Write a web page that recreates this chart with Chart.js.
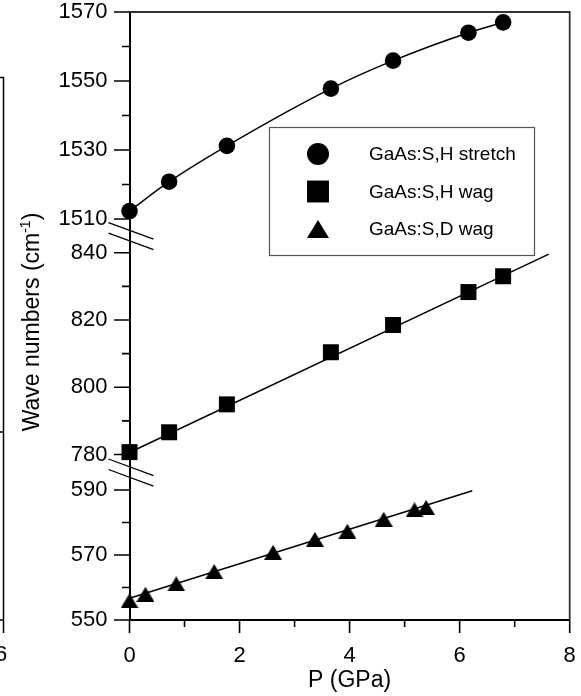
<!DOCTYPE html>
<html>
<head>
<meta charset="utf-8">
<script src="https://cdn.jsdelivr.net/npm/chart.js@4.4.1/dist/chart.umd.min.js"></script>
<style>
  html, body { margin: 0; padding: 0; background: #fff; }
  #wrap { width: 581px; height: 696px; }
</style>
</head>
<body>
<div id="wrap"><canvas id="chart" width="581" height="696"></canvas></div>
<script>
(function() {
  'use strict';

  // --- Data ---
  const pressureH = [0, 0.72, 1.77, 3.66, 4.79, 6.16, 6.79];
  const stretchH  = [1512.3, 1520.8, 1531.2, 1547.8, 1555.9, 1564.0, 1567.0];
  const wagH      = [780.7, 786.6, 794.9, 810.4, 818.5, 828.3, 833.0];
  const pressureD = [0, 0.29, 0.85, 1.54, 2.61, 3.37, 3.96, 4.62, 5.18, 5.39];
  const wagD      = [555.9, 557.9, 561.1, 564.9, 570.8, 574.8, 577.3, 581.0, 583.9, 584.6];

  // straight fit lines, end points as drawn
  const fitWagHP = [0, 7.62];
  const fitWagH  = [780.6, 839.6];
  const fitWagDP = [0, 6.23];
  const fitWagD  = [556.7, 589.8];

  const seriesNames = ['GaAs:S,H stretch', 'GaAs:S,H wag', 'GaAs:S,D wag'];

  // --- Tick labels ---
  const xTickLabels   = [0, 2, 4, 6, 8];
  const topTickLabels = [1510, 1530, 1550, 1570];
  const midTickLabels = [780, 800, 820, 840];
  const lowTickLabels = [550, 570, 590];

  const FONT = "'Liberation Sans', Arial, Helvetica, sans-serif";
  const AXIS_LEFT = 129.5;

  function pts(xs, ys) { return xs.map((x, i) => ({x: x, y: ys[i]})); }

  // labelled ticks plus the unlabelled minor tick halfway between
  function withMinors(labels) {
    const out = [];
    labels.forEach((v, i) => {
      out.push(v);
      if (i < labels.length - 1) out.push((v + labels[i + 1]) / 2);
    });
    return out;
  }

  // Origin-style triangle, centred on its bounding box
  function triangleSprite(w, h) {
    const c = document.createElement('canvas');
    c.width = w; c.height = h;
    const g = c.getContext('2d');
    g.fillStyle = '#000';
    g.beginPath();
    g.moveTo(w / 2, 0);
    g.lineTo(w, h);
    g.lineTo(0, h);
    g.closePath();
    g.fill();
    return c;
  }
  const triSmall = triangleSprite(18, 15);
  const triBig   = triangleSprite(22, 18);

  function yAxis(min, max, labels, stackWeight, order) {
    return {
      type: 'linear',
      position: 'left',
      stack: 'wn',
      stackWeight: stackWeight,
      weight: order,
      min: min,
      max: max,
      grid: { display: false, drawTicks: false },
      border: { color: '#000', width: 2 },
      ticks: {
        color: '#000',
        font: { family: FONT, size: 22 },
        padding: 22,
        autoSkip: false,
        callback: v => labels.includes(v) ? String(v) : ''
      },
      afterBuildTicks: s => { s.ticks = withMinors(labels).map(v => ({value: v})); },
      afterFit: s => { s.width = AXIS_LEFT; s.paddingTop = 0; s.paddingBottom = 0; }
    };
  }

  // --- Decorations: frame, tick marks, breaks, y title, legend ---
  const decor = {
    id: 'decor',
    afterDraw(chart) {
      const ctx = chart.ctx;
      const a = chart.chartArea;
      const sc = chart.scales;
      ctx.save();

      // top and right frame
      ctx.strokeStyle = '#333';
      ctx.lineWidth = 1.8;
      ctx.beginPath();
      ctx.moveTo(a.left, a.top);
      ctx.lineTo(a.right, a.top);
      ctx.lineTo(a.right, a.bottom);
      ctx.stroke();

      // tick marks
      ctx.strokeStyle = '#000';
      ctx.lineWidth = 1.6;
      ctx.beginPath();
      [['yTop', topTickLabels], ['yMid', midTickLabels], ['yLow', lowTickLabels]].forEach(([id, labels]) => {
        const s = sc[id];
        s.ticks.forEach(t => {
          const y = s.getPixelForValue(t.value);
          const len = labels.includes(t.value) ? 15.5 : 7.5;
          ctx.moveTo(a.left - len, y);
          ctx.lineTo(a.left, y);
        });
      });
      sc.x.ticks.forEach(t => {
        const x = sc.x.getPixelForValue(t.value);
        const len = xTickLabels.includes(t.value) ? 13 : 7;
        ctx.moveTo(x, a.bottom);
        ctx.lineTo(x, a.bottom + len);
      });
      ctx.stroke();

      // axis break marks
      ctx.lineWidth = 1.3;
      ctx.beginPath();
      [sc.yTop.bottom, sc.yMid.bottom].forEach(yb => {
        [-5, 5.5].forEach(off => {
          ctx.moveTo(a.left - 21, yb + off - 8.3);
          ctx.lineTo(a.left + 24, yb + off + 8.3);
        });
      });
      ctx.stroke();

      // y title with superscript
      ctx.fillStyle = '#000';
      ctx.translate(39, 322);
      ctx.rotate(-Math.PI / 2);
      ctx.textBaseline = 'alphabetic';
      ctx.textAlign = 'left';
      const main = 'Wave numbers (cm', sup = '-1', close = ')';
      ctx.font = '23px ' + FONT;
      const w1 = ctx.measureText(main).width;
      const w3 = ctx.measureText(close).width;
      ctx.font = '14px ' + FONT;
      const w2 = ctx.measureText(sup).width;
      let x0 = -(w1 + w2 + w3) / 2;
      ctx.font = '23px ' + FONT;
      ctx.fillText(main, x0, 0);
      ctx.font = '14px ' + FONT;
      ctx.fillText(sup, x0 + w1, -9);
      ctx.font = '23px ' + FONT;
      ctx.fillText(close, x0 + w1 + w2, 0);
      ctx.setTransform(1, 0, 0, 1, 0, 0);

      // legend
      ctx.fillStyle = '#fff';
      ctx.fillRect(269.5, 127.5, 265, 128);
      ctx.strokeStyle = '#555';
      ctx.lineWidth = 1.2;
      ctx.strokeRect(269.5, 127.5, 265, 128);
      const marks = [
        {pointStyle: 'circle', radius: 11, rotation: 0},
        {pointStyle: 'rect', radius: 15.5, rotation: 0},
        {pointStyle: triBig, radius: 11, rotation: 0}
      ];
      const rows = [154, 191.5, 229];
      ctx.font = '19px ' + FONT;
      ctx.textBaseline = 'middle';
      seriesNames.forEach((name, i) => {
        ctx.fillStyle = '#000';
        ctx.beginPath();
        Chart.helpers.drawPoint(ctx, marks[i], 318, rows[i]);
        ctx.fillStyle = '#000';
        ctx.fillText(name, 369, rows[i] + 1);
      });

      // edge of the neighbouring panel, cut off at the left
      ctx.strokeStyle = '#000';
      ctx.lineWidth = 1.5;
      ctx.beginPath();
      ctx.moveTo(0, 77.5);
      ctx.lineTo(3.5, 77.5);
      ctx.lineTo(3.5, 633);
      ctx.moveTo(0, 620);
      ctx.lineTo(3.5, 620);
      ctx.moveTo(0, 432);
      ctx.lineTo(3.5, 432);
      ctx.stroke();
      ctx.fillStyle = '#000';
      ctx.font = '22px ' + FONT;
      ctx.textAlign = 'left';
      ctx.fillText('6', -5, 655);

      ctx.restore();
    }
  };

  new Chart(document.getElementById('chart'), {
    type: 'scatter',
    data: {
      datasets: [
        {
          label: seriesNames[0],
          data: pts(pressureH, stretchH),
          yAxisID: 'yTop',
          showLine: true,
          cubicInterpolationMode: 'monotone',
          borderColor: '#000',
          borderWidth: 1.5,
          pointStyle: 'circle',
          pointRadius: 8.3,
          pointBackgroundColor: '#000',
          pointBorderWidth: 0,
          clip: false,
          order: 0
        },
        {
          label: seriesNames[1],
          data: pts(pressureH, wagH),
          yAxisID: 'yMid',
          showLine: false,
          pointStyle: 'rect',
          pointRadius: 11.3,
          pointBackgroundColor: '#000',
          pointBorderWidth: 0,
          clip: false,
          order: 0
        },
        {
          label: seriesNames[2],
          data: pts(pressureD, wagD),
          yAxisID: 'yLow',
          showLine: false,
          pointStyle: triSmall,
          pointRadius: 9,
          pointBackgroundColor: '#000',
          pointBorderWidth: 0,
          clip: false,
          order: 0
        },
        {
          label: 'H wag fit',
          data: pts(fitWagHP, fitWagH),
          yAxisID: 'yMid',
          showLine: true,
          borderColor: '#000',
          borderWidth: 1.5,
          pointRadius: 0,
          clip: false,
          order: 1
        },
        {
          label: 'D wag fit',
          data: pts(fitWagDP, fitWagD),
          yAxisID: 'yLow',
          showLine: true,
          borderColor: '#000',
          borderWidth: 1.5,
          pointRadius: 0,
          clip: false,
          order: 1
        }
      ]
    },
    options: {
      responsive: false,
      animation: false,
      events: [],
      layout: { padding: { top: 12, right: 8.3, bottom: 0, left: 0 } },
      plugins: {
        legend: { display: false },
        tooltip: { enabled: false }
      },
      scales: {
        x: {
          type: 'linear',
          position: 'bottom',
          min: 0,
          max: 8,
          grid: { display: false, drawTicks: false },
          border: { color: '#000', width: 2 },
          ticks: {
            color: '#000',
            font: { family: FONT, size: 22 },
            padding: 23,
            autoSkip: false,
            maxRotation: 0,
            callback: v => xTickLabels.includes(v) ? String(v) : ''
          },
          title: {
            display: true,
            text: 'P (GPa)',
            color: '#000',
            font: { family: FONT, size: 23 },
            padding: { top: 0, bottom: 2 }
          },
          afterBuildTicks: s => { s.ticks = withMinors(xTickLabels).map(v => ({value: v})); },
          afterFit: s => { s.height = 76; s.paddingLeft = 0; s.paddingRight = 0; }
        },
        yLow: yAxis(550, 595.45, lowTickLabels, 147.7, 1),
        yMid: yAxis(774.7, 845.0, midTickLabels, 236.4, 2),
        yTop: yAxis(1505.1, 1570, topTickLabels, 223.9, 3)
      }
    },
    plugins: [decor]
  });
})();
</script>
</body>
</html>
